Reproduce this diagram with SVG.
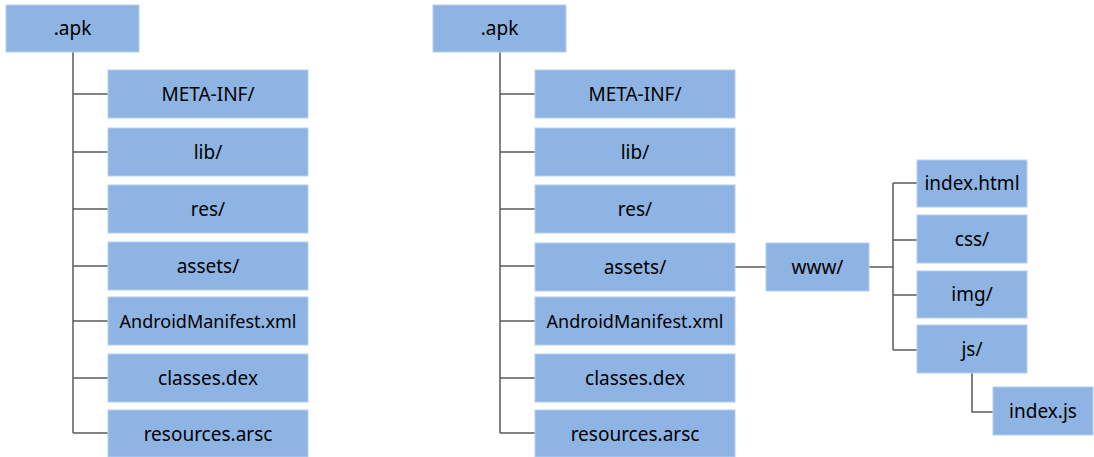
<svg xmlns="http://www.w3.org/2000/svg" width="1094" height="457" viewBox="0 0 1094 457">
<style>
.box{fill:#8EB4E3;stroke:#B7CEEE;stroke-width:1}
.t{font-family:"Noto Sans","Liberation Sans",sans-serif;font-size:19px;fill:#000;text-anchor:middle}
.s{font-size:18px}
.c{fill:none;stroke:#5A5A5A;stroke-width:1.5}
</style>
<rect width="1094" height="457" fill="#fff"/>
<g id="connectors">
<path class="c" d="M73 52V433M73 94H108M73 152H108M73 209H108M73 266H108M73 321H108M73 378H108M73 433H108"/>
<path class="c" d="M500 52V433M500 94H535M500 152H535M500 209H535M500 266H535M500 321H535M500 378H535M500 433H535"/>
<path class="c" d="M734 267H766M869 267H893M893 183V350M893 183H917M893 240H917M893 295H917M893 350H917"/>
<path class="c" d="M972 373V412H993"/>
</g>
<g id="apk1"><rect class="box" x="6" y="5" width="133" height="47"/><text class="t" x="72.5" y="35">.apk</text></g>
<g id="meta1"><rect class="box" x="108" y="70" width="200" height="48"/><text class="t" x="208" y="100.5">META-INF/</text></g>
<g id="lib1"><rect class="box" x="108" y="128" width="200" height="48"/><text class="t" x="208" y="158.5">lib/</text></g>
<g id="res1"><rect class="box" x="108" y="185" width="200" height="48"/><text class="t" x="208" y="215.5">res/</text></g>
<g id="assets1"><rect class="box" x="108" y="242" width="200" height="48"/><text class="t" x="208" y="272.5">assets/</text></g>
<g id="manifest1"><rect class="box" x="108" y="297" width="200" height="48"/><text class="t s" x="208" y="327.5">AndroidManifest.xml</text></g>
<g id="classes1"><rect class="box" x="108" y="354" width="200" height="48"/><text class="t" x="208" y="384.5">classes.dex</text></g>
<g id="resources1"><rect class="box" x="108" y="410" width="200" height="47"/><text class="t" x="208" y="440.5">resources.arsc</text></g>

<g id="apk2"><rect class="box" x="433" y="5" width="133" height="47"/><text class="t" x="499.5" y="35">.apk</text></g>
<g id="meta2"><rect class="box" x="535" y="70" width="200" height="48"/><text class="t" x="635" y="100.5">META-INF/</text></g>
<g id="lib2"><rect class="box" x="535" y="128" width="200" height="48"/><text class="t" x="635" y="158.5">lib/</text></g>
<g id="res2"><rect class="box" x="535" y="185" width="200" height="48"/><text class="t" x="635" y="215.5">res/</text></g>
<g id="assets2"><rect class="box" x="535" y="243" width="200" height="48"/><text class="t" x="635" y="273.5">assets/</text></g>
<g id="manifest2"><rect class="box" x="535" y="297" width="200" height="48"/><text class="t s" x="635" y="327.5">AndroidManifest.xml</text></g>
<g id="classes2"><rect class="box" x="535" y="354" width="200" height="48"/><text class="t" x="635" y="384.5">classes.dex</text></g>
<g id="resources2"><rect class="box" x="535" y="410" width="200" height="47"/><text class="t" x="635" y="440.5">resources.arsc</text></g>

<g id="www"><rect class="box" x="766" y="243" width="103" height="48"/><text class="t" x="817.5" y="273.5">www/</text></g>
<g id="indexhtml"><rect class="box" x="917" y="160" width="110" height="47"/><text class="t" x="972" y="190">index.html</text></g>
<g id="css"><rect class="box" x="917" y="215" width="110" height="48"/><text class="t" x="972" y="245.5">css/</text></g>
<g id="img"><rect class="box" x="917" y="271" width="110" height="47"/><text class="t" x="972" y="301">img/</text></g>
<g id="js"><rect class="box" x="917" y="325" width="110" height="48"/><text class="t" x="972" y="355.5">js/</text></g>
<g id="indexjs"><rect class="box" x="993" y="387" width="100" height="48"/><text class="t" x="1043" y="417.5">index.js</text></g>
</svg>
